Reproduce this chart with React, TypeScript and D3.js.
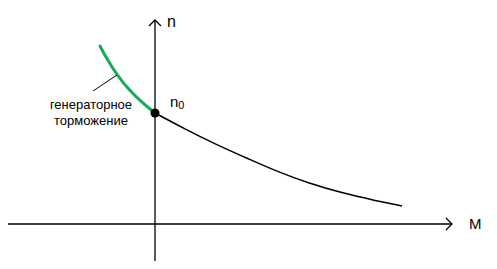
import React from "react";
import * as d3 from "d3";

const W = 497;
const H = 269;

// characteristic n(M): generator braking part (green) and motor part (black)
const brakingM = [-0.55, -0.48, -0.38, -0.26, -0.13, 0];
const brakingN = [1.78, 1.65, 1.49, 1.34, 1.215, 1.11];
const motorM = [0, 0.28, 0.62, 0.95, 1.22, 1.53, 1.87, 2.2, 2.47];
const motorN = [1.11, 0.96, 0.79, 0.645, 0.525, 0.41, 0.31, 0.235, 0.18];
const n0 = 1.11;
const axisM = [-1.47, 2.97];
const axisN = [-0.37, 2.04];
const labelLines = ["генераторное", "торможение"];

export default function App() {
  const x = d3.scaleLinear().domain([-1.47, 2.97]).range([8, 452]);
  const y = d3.scaleLinear().domain([0, 2.04]).range([224, 20]);
  const lineBasis = d3
    .line<[number, number]>()
    .x((d) => x(d[0]))
    .y((d) => y(d[1]))
    .curve(d3.curveBasis);
  const braking = brakingM.map((m, i) => [m, brakingN[i]] as [number, number]);
  const motor = motorM.map((m, i) => [m, motorN[i]] as [number, number]);
  const x0 = x(0);
  const y0 = y(0);
  const ah = 6;
  const xEnd = x(axisM[1]);
  const yTop = y(axisN[1]);
  const lead = braking[2];
  return (
    <svg
      width={W}
      height={H}
      style={{ position: "fixed", left: 0, top: 0, background: "#fff" }}
      fontFamily="Liberation Sans, Arial, sans-serif"
    >
      <rect width={W} height={H} fill="#fff" />
      {/* axes */}
      <line x1={x(axisM[0])} y1={y0} x2={xEnd} y2={y0} stroke="#000" strokeWidth={1.3} />
      <polyline
        points={`${xEnd - ah},${y0 - ah} ${xEnd},${y0} ${xEnd - ah},${y0 + ah}`}
        fill="none"
        stroke="#000"
        strokeWidth={1.3}
      />
      <line x1={x0} y1={y(axisN[0])} x2={x0} y2={yTop} stroke="#000" strokeWidth={1.3} />
      <polyline
        points={`${x0 - ah},${yTop + ah} ${x0},${yTop} ${x0 + ah},${yTop + ah}`}
        fill="none"
        stroke="#000"
        strokeWidth={1.3}
      />
      {/* curves */}
      <path d={lineBasis(motor) || ""} fill="none" stroke="#000" strokeWidth={1.5} />
      <path d={lineBasis(braking) || ""} fill="none" stroke="#1aaa55" strokeWidth={3} strokeLinecap="round" />
      <circle cx={x0} cy={y(n0)} r={4.5} fill="#000" />
      {/* leader */}
      <line x1={93} y1={91} x2={x(lead[0])} y2={y(lead[1])} stroke="#000" strokeWidth={1} />
      {/* labels */}
      <text x={167} y={27} fontSize={16} fill="#000">n</text>
      <text x={469} y={229} fontSize={15} fill="#000">M</text>
      <text x={170} y={107} fontSize={15} fill="#000">
        n<tspan fontSize={11} dy={2}>0</tspan>
      </text>
      {labelLines.map((t, i) => (
        <text key={t} x={91} y={109 + i * 16} fontSize={13} textAnchor="middle" fill="#000">
          {t}
        </text>
      ))}
    </svg>
  );
}
